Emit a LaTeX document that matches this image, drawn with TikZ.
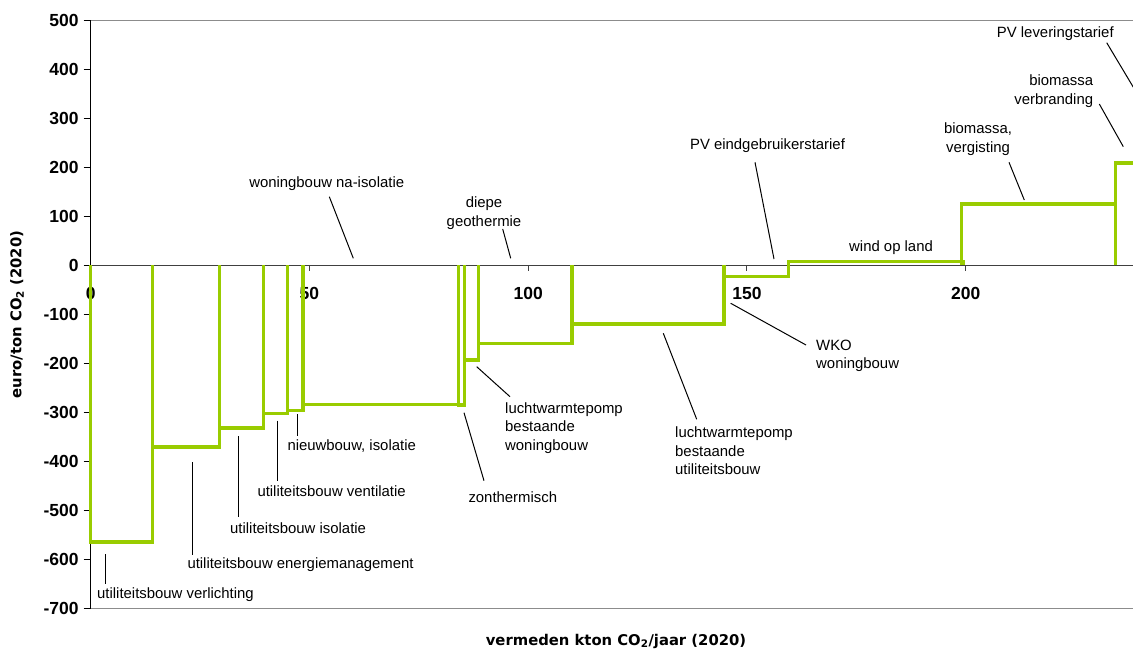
\documentclass[tikz,border=0pt]{standalone}
\usepackage{fontspec}
\setmainfont{Liberation Sans}
\newfontfamily\titlefont{DejaVu Sans}
\definecolor{curvegreen}{HTML}{99CC00}
\definecolor{framegray}{HTML}{8C8C8C}
\definecolor{zerogray}{HTML}{404040}

\begin{document}
\begin{tikzpicture}[x=1pt,y=-1pt,
  lbl/.style={font=\fontsize{14.9}{18.5}\selectfont, inner sep=0pt, text=black},
  ticklbl/.style={font=\fontsize{17.5}{20}\selectfont\bfseries, inner sep=0pt},
  axtitle/.style={font=\titlefont\bfseries\fontsize{14.8}{18}\selectfont, inner sep=0pt},
  leader/.style={draw=black, line width=1pt},
  curve/.style={draw=curvegreen, line width=3.4pt},
  frameline/.style={draw=framegray, line width=1.5pt},
]
\useasboundingbox (0,0) rectangle (1133,652);
\clip (0,0) rectangle (1133,652);

% plot frame, zero line and value axis
\draw[frameline] (90.7,20.3) -- (1140,20.3);
\draw[frameline] (90.7,608.7) -- (1140,608.7);
\draw[zerogray, line width=1.2pt] (90.7,265.3) -- (1140,265.3);
\draw[black, line width=1.2pt] (90.7,20.3) -- (90.7,609.2);

% value axis ticks and labels
\foreach \v [count=\i] in {500,400,...,-700} {
  \draw[black, line width=1pt] (83.5,{265.3-0.49*\v}) -- (90.7,{265.3-0.49*\v});
  \node[ticklbl, anchor=east] (yt\i) at (78.8,{265.3-0.49*\v}) {\v};
}

% category axis ticks and labels
\foreach \k in {50,100,150,200}
  \draw[zerogray, line width=1pt] ({90.7+4.375*\k},265.3) -- ({90.7+4.375*\k},271);
\foreach \k in {0,50,100,150,200}
  \node[ticklbl] (xt\k) at ({90.7+4.375*\k},293) {\k};

% axis titles
\node[axtitle, rotate=90] (ytitle) at (17,314.5) {euro/ton CO\textsubscript{2} (2020)};
\node[axtitle] (xtitle) at (616,641) {vermeden kton CO\textsubscript{2}/jaar (2020)};

% cost curve: one open bar per measure
\begin{scope}[shift={(90.7pt,-265.3pt)}, x=4.375pt, y=0.49pt]
  \foreach \a/\b/\v in {0/14.17/-564.7, 14.17/29.39/-370.8, 29.39/39.45/-332.0,
      39.45/44.94/-302.9, 44.94/48.53/-296.7, 48.53/84.11/-283.7, 84.11/85.49/-285,
      85.49/88.69/-193.3, 88.69/110.0/-159.2, 110.0/144.75/-119.8,
      144.75/159.45/-23.3, 159.45/199.4/8.0, 199.1/234.2/125.5, 234.2/250/208.6}
    \draw[curve] (\a,0) -- (\a,\v) -- (\b,\v) -- (\b,0);
\end{scope}

% measure labels
\node[lbl, anchor=west] (verl) at (97,595) {utiliteitsbouw verlichting};
\node[lbl, anchor=west] (energ) at (187.3,565) {utiliteitsbouw energiemanagement};
\node[lbl, anchor=west] (isol) at (230,528.3) {utiliteitsbouw isolatie};
\node[lbl, anchor=west] (vent) at (257.3,491) {utiliteitsbouw ventilatie};
\node[lbl, anchor=west] (nieuw) at (287.3,445.7) {nieuwbouw, isolatie};
\node[lbl, anchor=west] (zon) at (468.3,496.7) {zonthermisch};
\node[lbl, anchor=north west, align=left] (lwwon) at (505,402.3) {luchtwarmtepomp\\bestaande\\woningbouw};
\node[lbl, anchor=north west, align=left] (lwutil) at (675,426.7) {luchtwarmtepomp\\bestaande\\utiliteitsbouw};
\node[lbl, anchor=north west, align=left] (wko) at (816,339.7) {WKO\\woningbouw};
\node[lbl] (woniso) at (326.7,184) {woningbouw na-isolatie};
\node[lbl, anchor=north, align=center] (geo) at (484,196.7) {diepe\\geothermie};
\node[lbl] (pvei) at (767.5,145.7) {PV eindgebruikerstarief};
\node[lbl, anchor=west] (wind) at (849,247.7) {wind op land};
\node[lbl, anchor=north, align=center] (verg) at (978,122.7) {biomassa,\\vergisting};
\node[lbl, anchor=north east, align=right] (verbr) at (1093.3,75) {biomassa\\verbranding};
\node[lbl] (pvlev) at (1055.3,33.3) {PV leveringstarief};

% leader lines
\coordinate (verl-a) at (105,554);     \coordinate (verl-b) at (105,584);
\coordinate (energ-a) at (192.3,462.3); \coordinate (energ-b) at (192.3,555);
\coordinate (isol-a) at (238.3,436);   \coordinate (isol-b) at (238.3,517.3);
\coordinate (vent-a) at (277.3,420.7); \coordinate (vent-b) at (277.3,480.7);
\coordinate (nieuw-a) at (297.3,414);  \coordinate (nieuw-b) at (297.3,436);
\coordinate (zon-a) at (464,412.7);    \coordinate (zon-b) at (484,480.7);
\coordinate (lwwon-a) at (476.7,366.7); \coordinate (lwwon-b) at (510,396.7);
\coordinate (lwutil-a) at (663.3,333.3); \coordinate (lwutil-b) at (696.7,419.3);
\coordinate (wko-a) at (730.7,303.3);  \coordinate (wko-b) at (806,345);
\coordinate (woniso-a) at (329.3,196.7); \coordinate (woniso-b) at (353.3,258.3);
\coordinate (geo-a) at (502.7,229);    \coordinate (geo-b) at (510.7,258.3);
\coordinate (pvei-a) at (755,162.3);   \coordinate (pvei-b) at (774,259);
\coordinate (verg-a) at (1009,162.3);  \coordinate (verg-b) at (1024.3,200);
\coordinate (verbr-a) at (1099.3,104); \coordinate (verbr-b) at (1123.3,146.7);
\coordinate (pvlev-a) at (1106.7,42.7); \coordinate (pvlev-b) at (1136,91.7);
\foreach \n in {verl,energ,isol,vent,nieuw,zon,lwwon,lwutil,wko,woniso,geo,pvei,verg,verbr,pvlev}
  \draw[leader] (\n-a) -- (\n-b);
\end{tikzpicture}
\end{document}
